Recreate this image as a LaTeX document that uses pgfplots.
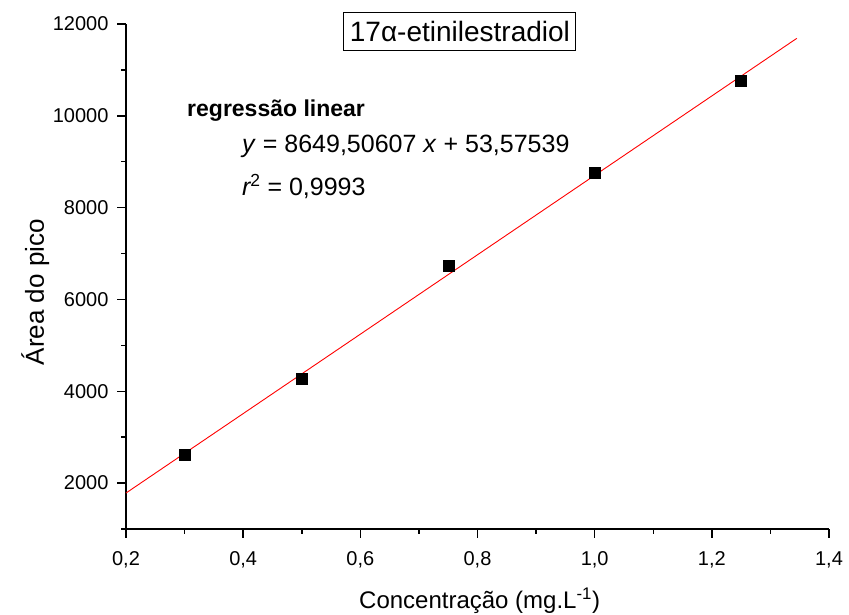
\documentclass[border=0pt]{standalone}
\usepackage{fontspec}
\setmainfont{Liberation Sans}
\usepackage{pgfplots}
\pgfplotsset{compat=1.18}

% calibration points: concentration (mg/L) vs. peak area
\pgfplotstableread{
x     y
0.30  2620
0.50  4270
0.75  6730
1.00  8760
1.25  10760
}\calib

\begin{document}
\begin{tikzpicture}
\begin{axis}[
  name=ax,
  scale only axis,
  width=703pt, height=505pt,
  xmin=0.2, xmax=1.4, ymin=1000, ymax=12000,
  axis x line=bottom, axis y line=left,
  axis line style={-, line width=1.8pt, black},
  xtick={0.2,0.4,...,1.4},
  minor xtick={0.3,0.5,...,1.3},
  ytick={2000,4000,...,12000},
  minor ytick={1000,3000,...,11000},
  scaled y ticks=false,
  tick align=outside,
  major tick length=9pt, minor tick length=5pt,
  every tick/.style={black, line width=1.5pt},
  /pgf/number format/assume math mode=true,
  x tick label style={/pgf/number format/use comma, /pgf/number format/fixed,
    /pgf/number format/fixed zerofill, /pgf/number format/precision=1,
    font=\fontsize{20}{23}\selectfont, yshift=-10pt},
  y tick label style={/pgf/number format/fixed, /pgf/number format/1000 sep={},
    font=\fontsize{20}{23}\selectfont, xshift=-5pt},
  xlabel={Concentração (mg.L\textsuperscript{-1})},
  ylabel={Área do pico},
  xlabel style={font=\fontsize{24}{28}\selectfont, at={(axis description cs:0.503,-0.158)}, anchor=base},
  ylabel style={font=\fontsize{26}{30}\selectfont, at={(axis description cs:-0.129,0.469)}, anchor=center},
  clip=false,
]
  % least-squares line
  \addplot[red, line width=0.9pt] coordinates {(0.2,1783.48) (1.345,11687.2)};
  % measured points
  \addplot[only marks, mark=square*, mark size=5.5pt, mark options={fill=black, draw=black}] table[x=x, y=y] {\calib};

  \node[draw, line width=1pt, inner xsep=6pt, inner ysep=9pt, font=\fontsize{28}{32}\selectfont, anchor=center]
    at (axis description cs:0.475,0.985) {17α-etinilestradiol};
  \node[anchor=base west, inner sep=0pt, font=\bfseries\fontsize{23}{27}\selectfont]
    at (axis description cs:0.0868,0.816) {regressão linear};
  \node[anchor=base west, inner sep=0pt, font=\fontsize{25}{29}\selectfont]
    at (axis description cs:0.165,0.7465) {\textit{y} = 8649,50607 \textit{x} + 53,57539};
  \node[anchor=base west, inner sep=0pt, font=\fontsize{25}{29}\selectfont]
    at (axis description cs:0.165,0.661) {\textit{r}\kern-1pt\textsuperscript{2} = 0,9993};
\end{axis}
\pgfresetboundingbox
\path[use as bounding box] ([shift={(-126pt,-86pt)}]ax.south west) rectangle ([shift={(20pt,24pt)}]ax.north east);
\end{tikzpicture}
\end{document}
